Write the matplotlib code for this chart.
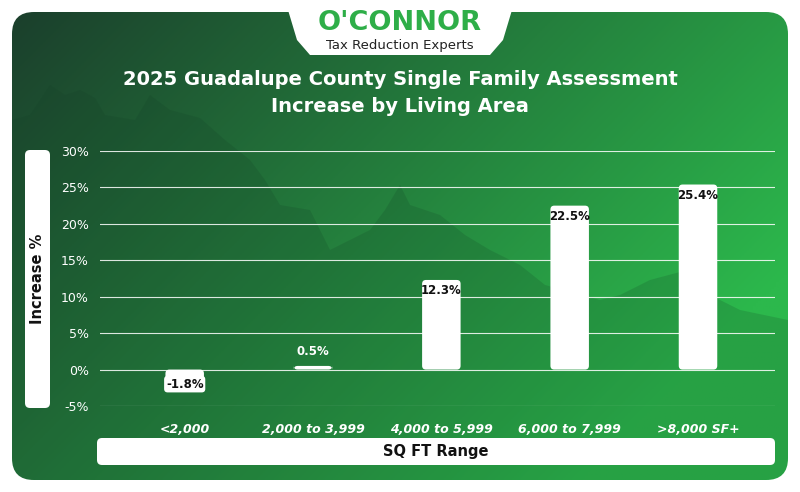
import matplotlib
matplotlib.use("Agg")
import matplotlib.pyplot as plt
import numpy as np
from matplotlib.patches import FancyBboxPatch, Polygon

categories = ["<2,000", "2,000 to 3,999", "4,000 to 5,999", "6,000 to 7,999", ">8,000 SF+"]
values = [-1.8, 0.5, 12.3, 22.5, 25.4]
yticks = [-5, 0, 5, 10, 15, 20, 25, 30]

W, H = 800, 492
fig = plt.figure(figsize=(8, 4.92), dpi=100)
bg = fig.add_axes([0, 0, 1, 1])
bg.set_xlim(0, W); bg.set_ylim(H, 0); bg.axis("off")

xs = np.linspace(0, 1, 300)
ys = np.linspace(0, 1, 200)
X, Y = np.meshgrid(xs, ys)
t = np.clip(0.75 * X + 0.45 * Y, 0, 1)
dark = np.array([0x1b, 0x3f, 0x2c]) / 255
bright = np.array([0x2c, 0xb8, 0x4c]) / 255
img = dark[None, None, :] * (1 - t[..., None]) + bright[None, None, :] * t[..., None]
im = bg.imshow(img, extent=[12, 788, 480, 12], aspect="auto", zorder=0)
clip = FancyBboxPatch((12, 12), 776, 468, boxstyle="round,pad=0,rounding_size=22",
                      transform=bg.transData, facecolor="none", edgecolor="none")
bg.add_patch(clip)
im.set_clip_path(clip)

sil = [(12, 120), (30, 115), (50, 85), (65, 95), (80, 90), (95, 98), (105, 115), (135, 120),
       (150, 95), (170, 110), (200, 118), (225, 140), (250, 160), (265, 180), (280, 205),
       (310, 210), (330, 250), (350, 240), (370, 230), (385, 210), (400, 185), (410, 205),
       (440, 215), (465, 235), (490, 250), (520, 265), (545, 285), (600, 300), (620, 295),
       (650, 280), (680, 272), (700, 290), (740, 310), (788, 320), (788, 480), (12, 480)]
p = Polygon(sil, closed=True, facecolor="#123d25", edgecolor="none", alpha=0.18, zorder=1)
bg.add_patch(p)
p.set_clip_path(clip)

tab = Polygon([(285, 0), (515, 0), (503, 40), (490, 55), (310, 55), (297, 40)], closed=True,
              facecolor="white", edgecolor="none", zorder=2)
bg.add_patch(tab)
bg.text(400, 23, "O'CONNOR", color="#2eae48", fontsize=19.5, fontweight="bold",
        ha="center", va="center", zorder=3)
bg.text(400, 45, "Tax Reduction Experts", color="#222222", fontsize=9.5,
        ha="center", va="center", zorder=3)

bg.text(400, 93, "2025 Guadalupe County Single Family Assessment\nIncrease by Living Area",
        color="white", fontsize=14, fontweight="bold", ha="center", va="center",
        linespacing=1.55, zorder=3)

bg.add_patch(FancyBboxPatch((25, 150), 25, 258, boxstyle="round,pad=0,rounding_size=5",
                            facecolor="white", edgecolor="none", zorder=2))
bg.text(37.5, 279, "Increase %", rotation=90, ha="center", va="center", fontsize=10.5,
        fontweight="bold", color="#111111", zorder=3)
bg.add_patch(FancyBboxPatch((97, 438), 678, 27, boxstyle="round,pad=0,rounding_size=5",
                            facecolor="white", edgecolor="none", zorder=2))
bg.text(436, 451.5, "SQ FT Range", ha="center", va="center", fontsize=10.5,
        fontweight="bold", color="#111111", zorder=3)

ax = fig.add_axes([100 / W, 1 - 406 / H, 675 / W, 255 / H])
ax.patch.set_alpha(0)
ax.set_xlim(-0.66, 4.6)
ax.set_ylim(-5, 30)
for s in ax.spines.values():
    s.set_visible(False)
ax.set_yticks(yticks)
ax.set_yticklabels([f"{t}%" for t in yticks], color="white", fontsize=9)
ax.set_xticks(range(len(categories)))
ax.set_xticklabels(categories, color="white", fontsize=9, fontstyle="italic", fontweight="bold")
ax.tick_params(length=0, pad=12)
ax.tick_params(axis="y", pad=8)
ax.grid(axis="y", color="white", linewidth=0.8, alpha=0.85)
ax.set_axisbelow(True)

bars = ax.bar(range(len(values)), values, width=0.3, color="none", edgecolor="none")
aspect = (35 / 255) / (5.26 / 675)
for b, v in zip(bars, values):
    x0, y0 = b.get_x(), b.get_y()
    w, h = b.get_width(), b.get_height()
    if h < 0:
        y0, h = y0 + h, -h
    fb = FancyBboxPatch((x0, y0), w, h, boxstyle="round,pad=0,rounding_size=0.03",
                        mutation_aspect=aspect, facecolor="white", edgecolor="none", zorder=3)
    ax.add_patch(fb)
    if v < 0:
        ty = v - 0.2
    elif v < 3:
        ty = v + 2
    else:
        ty = v - 1.5
    ax.text(b.get_x() + w / 2, ty, f"{v}%", ha="center", va="center", fontsize=8.5,
            fontweight="bold", color="white" if 0 < v < 3 else "#111111", zorder=4,
            bbox=dict(boxstyle="round,pad=0.15,rounding_size=0.3", fc="white", ec="none") if v < 0 else None)

fig.savefig("out.png", dpi=100)
